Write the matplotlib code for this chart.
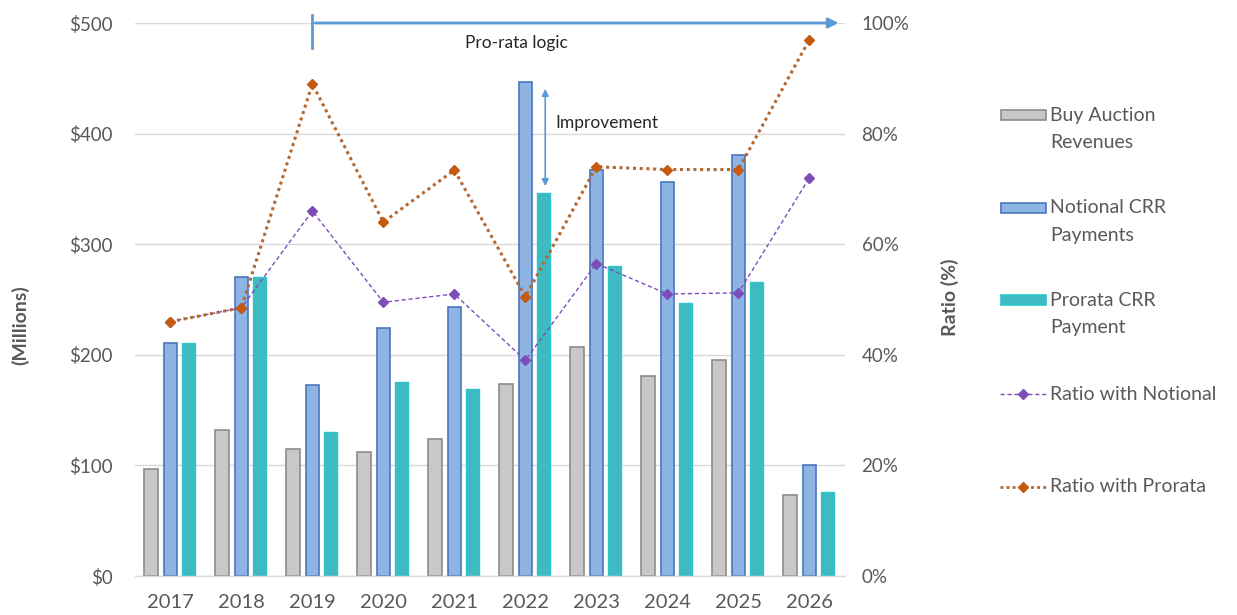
import numpy as np
import matplotlib
matplotlib.use("Agg")
import matplotlib.pyplot as plt
from matplotlib.patches import Rectangle
from matplotlib.lines import Line2D

plt.rcParams['font.family'] = ['Lato', 'DejaVu Sans']

years = ['2017', '2018', '2019', '2020', '2021', '2022', '2023', '2024', '2025', '2026']
buy_auction = [97, 132, 115, 112, 124, 174, 207, 181, 195, 73]
notional = [211, 270, 173, 224, 243, 447, 367, 356, 381, 100]
prorata = [211, 270, 130, 175, 169, 346, 280, 247, 266, 76]
ratio_notional = [0.46, 0.485, 0.66, 0.495, 0.51, 0.39, 0.565, 0.51, 0.512, 0.72]
ratio_prorata = [0.46, 0.485, 0.89, 0.64, 0.734, 0.505, 0.74, 0.735, 0.735, 0.97]

c_gray, e_gray = '#C8C8C8', '#8C8C8C'
c_blue, e_blue = '#8DB4E2', '#4A76BC'
c_teal, e_teal = '#3EBAC2', '#2FC5CC'
c_purple = '#7D4DB8'
c_orange = '#C55A11'
txt = '#595959'

fig = plt.figure(figsize=(12.37, 6.15), dpi=100)
ax = fig.add_axes([0.109, 0.0634, 0.574, 0.8992])
ax2 = ax.twinx()

x = np.arange(len(years))
w = 0.19
ax.bar(x - 0.27, buy_auction, w, color=c_gray, edgecolor=e_gray, linewidth=1.2, zorder=2)
ax.bar(x, notional, w, color=c_blue, edgecolor=e_blue, linewidth=1.2, zorder=2)
ax.bar(x + 0.255, prorata, w, color=c_teal, edgecolor=e_teal, linewidth=1.0, zorder=2)

ax.set_xlim(-0.5, 9.5)
ax.set_ylim(0, 500)
ax.set_yticks(range(0, 501, 100))
ax.set_yticklabels(['$%d' % v for v in range(0, 501, 100)])
ax.yaxis.grid(True, color='#D9D9D9', linewidth=1.0, zorder=0)
ax.set_axisbelow(True)
ax.set_xticks(x)
ax.set_xticklabels(years)
for s in ['top', 'right', 'left']:
    ax.spines[s].set_visible(False)
ax.spines['bottom'].set_color('#D9D9D9')
ax.spines['bottom'].set_linewidth(1.0)
ax.tick_params(axis='y', length=0, pad=16, labelsize=13.5, labelcolor=txt)
ax.tick_params(axis='x', length=0, pad=13, labelsize=14.5, labelcolor=txt)

ax2.plot(x, ratio_notional, linestyle=(0, (3, 2)), color=c_purple, linewidth=1.0,
         marker='D', markersize=5, zorder=4)
ax2.plot(x, ratio_prorata, linestyle=(0, (1, 1.2)), color='#B5672F', linewidth=2.2,
         marker='D', markersize=5.5, markerfacecolor=c_orange, markeredgecolor=c_orange,
         zorder=4)
ax2.set_ylim(0, 1)
ax2.set_yticks(np.arange(0, 1.01, 0.2))
ax2.set_yticklabels(['%d%%' % round(v * 100) for v in np.arange(0, 1.01, 0.2)])
for s in ax2.spines.values():
    s.set_visible(False)
ax2.tick_params(axis='y', length=0, pad=12, labelsize=13.5, labelcolor=txt)

# annotations
ax.annotate('', xy=(9.45, 500), xytext=(2, 500),
            arrowprops=dict(arrowstyle='-|>', color='#5B9BD5', lw=2.0, mutation_scale=15),
            annotation_clip=False, zorder=5)
ax.plot([2, 2], [477, 507], color='#5B9BD5', lw=2.0, clip_on=False, zorder=5)
ax.text(4.87, 482, 'Pro-rata logic', ha='center', va='center', fontsize=12.5, color='#262626')

ax.annotate('', xy=(5.28, 443), xytext=(5.28, 350),
            arrowprops=dict(arrowstyle='<|-|>', color='#5B9BD5', lw=1.2, mutation_scale=10),
            zorder=5)
ax.text(5.42, 410, 'Improvement', ha='left', va='center', fontsize=12.5, color='#262626')

fig.text(20 / 1237, 1 - 325 / 615, '(Millions)', rotation=90, ha='center', va='center',
         fontsize=14, fontweight='bold', color=txt)
fig.text(950 / 1237, 1 - 297 / 615, 'Ratio (%)', rotation=90, ha='center', va='center',
         fontsize=14, fontweight='bold', color=txt)

# manual legend
W, H = 1237, 615
def fx(px):
    return px / W
def fy(py):
    return 1 - py / H

legend_rows = [
    ('bar', c_gray, e_gray, ['Buy Auction', 'Revenues'], 115),
    ('bar', c_blue, e_blue, ['Notional CRR', 'Payments'], 208),
    ('bar', c_teal, e_teal, ['Prorata CRR', 'Payment'], 300),
    ('line', c_purple, (0, (3, 2)), ['Ratio with Notional'], 394),
    ('line', c_orange, (0, (1, 1.2)), ['Ratio with Prorata'], 487),
]
for kind, col, ed, lines, py in legend_rows:
    if kind == 'bar':
        fig.add_artist(Rectangle((fx(1001), fy(py + 5)), fx(45), 10 / H,
                                 facecolor=col, edgecolor=ed, linewidth=1.2))
    else:
        lw = 1.0 if col == c_purple else 2.0
        lc = col if col == c_purple else '#B5672F'
        fig.add_artist(Line2D([fx(1000), fx(1046)], [fy(py), fy(py)], color=lc,
                              linestyle=ed, linewidth=lw))
        fig.add_artist(Line2D([fx(1023)], [fy(py)], color=col, marker='D', markersize=5.5))
    for i, line in enumerate(lines):
        fig.text(fx(1050), fy(py + 27 * i), line, ha='left', va='center', fontsize=14,
                 color=txt)

fig.savefig('out.png', dpi=100)
